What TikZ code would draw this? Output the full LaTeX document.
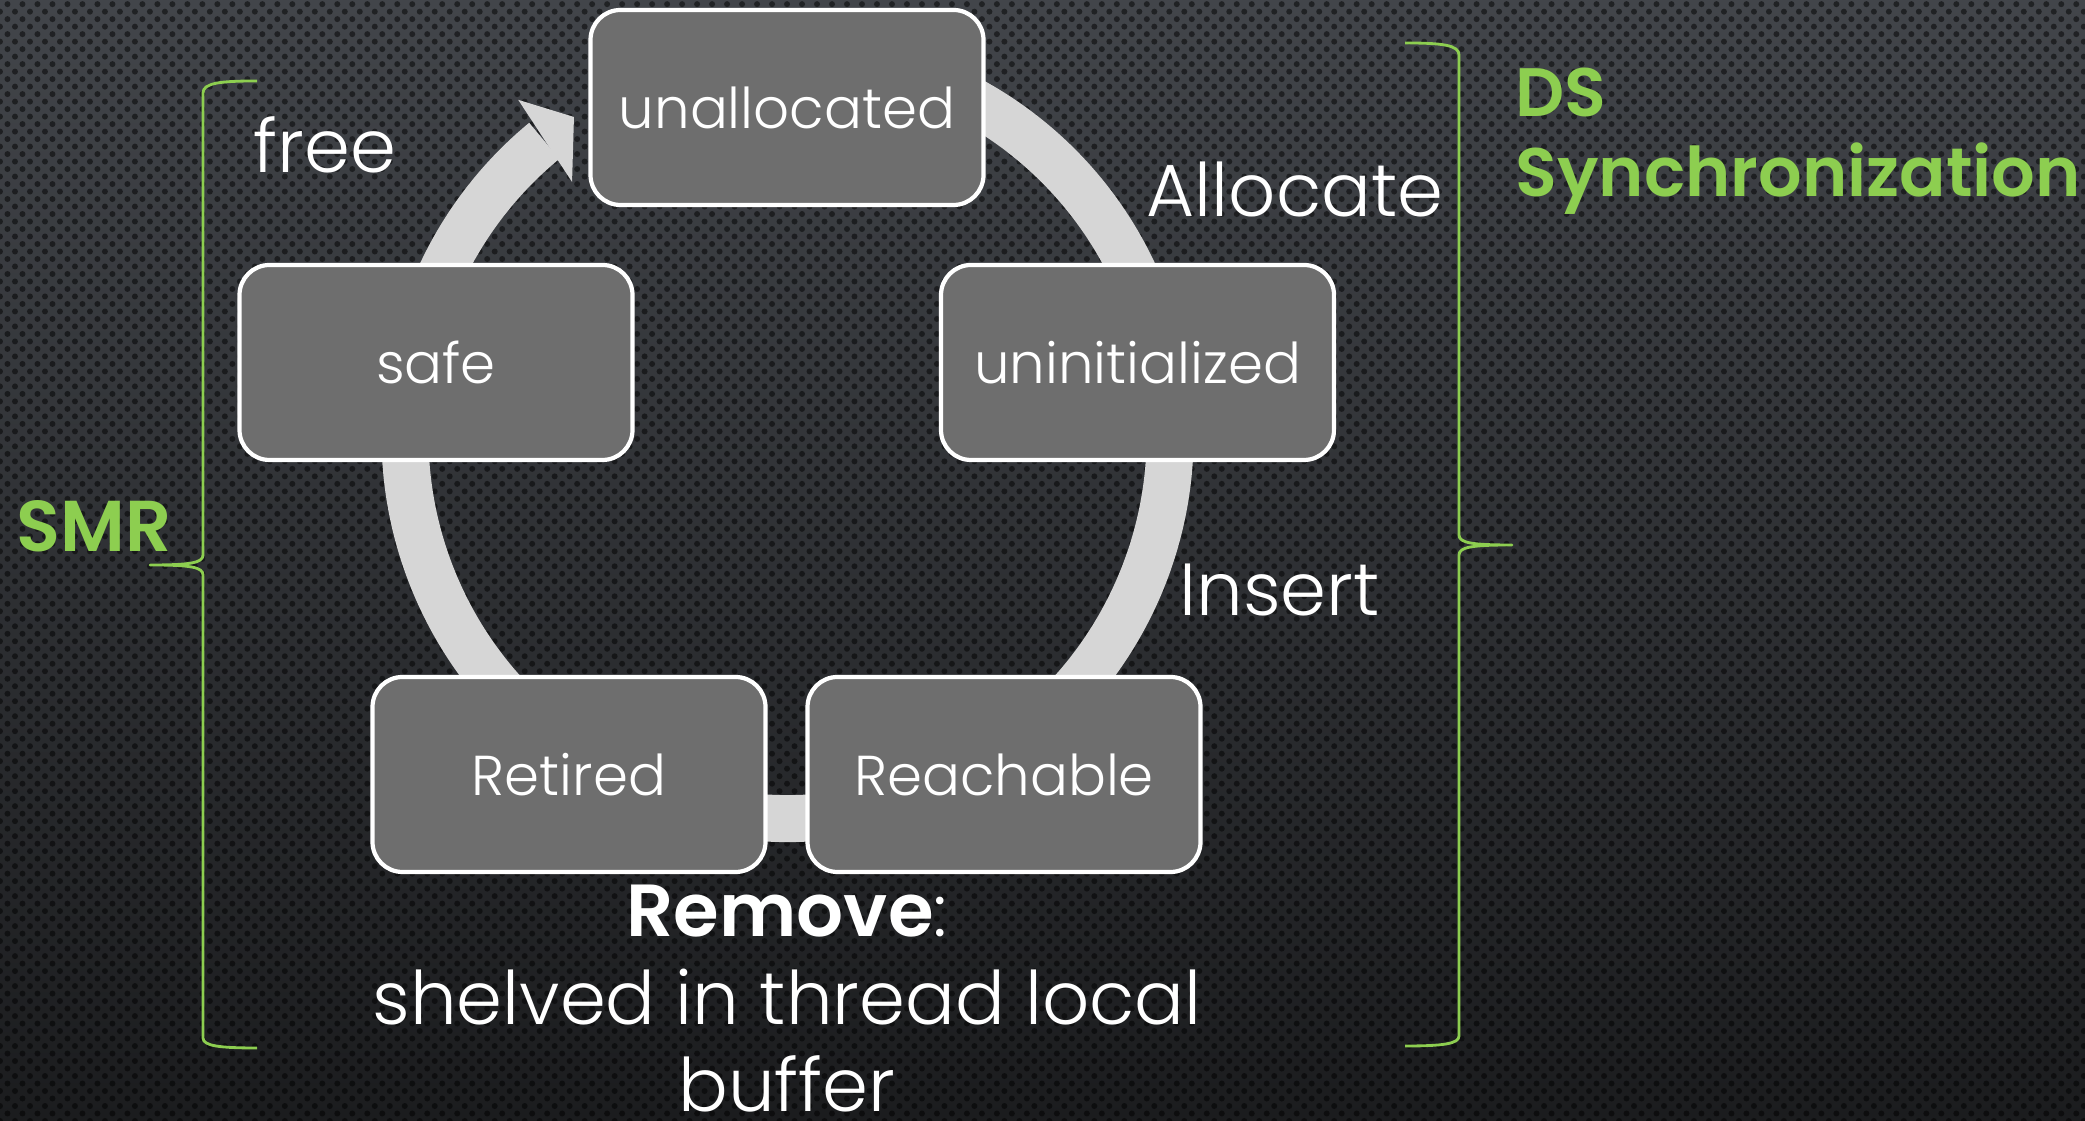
\documentclass[tikz,border=0pt]{standalone}
\usepackage{fontspec}
\IfFontExistsTF{Poppins Light}{\setmainfont{Poppins Light}[BoldFont=Poppins SemiBold]}{\setmainfont{Poppins}}
\usetikzlibrary{patterns.meta}
\definecolor{smrgreen}{RGB}{141,206,80}
\definecolor{boxgray}{RGB}{110,110,110}
\definecolor{ringgray}{RGB}{214,214,214}
\definecolor{bgtop}{RGB}{66,69,74}
\definecolor{bgbottom}{RGB}{27,28,30}

\begin{document}
\begin{tikzpicture}[line join=round,
  state/.style={draw=white,line width=1.2pt,fill=boxgray,rounded corners=0.3cm,
    minimum width=3.93cm,minimum height=1.95cm,text=white,font=\fontsize{16}{19}\selectfont},
  lbl/.style={text=white,inner sep=0pt,font=\fontsize{21}{25}\selectfont},
  grp/.style={text=smrgreen,inner sep=0pt,font=\bfseries\fontsize{19.5}{22.8}\selectfont},
  brace/.style={draw=smrgreen,line width=0.8pt}]
\useasboundingbox (0,0) rectangle (20.85,11.21);
% backdrop
\shade[top color=bgtop,bottom color=bgbottom] (0,0) rectangle (20.85,11.21);
\fill[pattern={Dots[radius=0.03cm,distance=0.106cm,angle=45]},pattern color=black,opacity=0.5]
  (0,0) rectangle (20.85,11.21);
% ring, clockwise, ends in the head next to unallocated
\coordinate (hub) at (7.875,6.85);
\draw[ringgray,line width=0.47cm]
  ([shift={(110:3.825)}]hub) arc[start angle=110,end angle=-230.5,radius=3.825];
\fill[ringgray] ([shift={(128.7:4.307)}]hub) -- ([shift={(123.8:3.839)}]hub)
  -- ([shift={(130.3:3.331)}]hub) -- cycle;
% states
\node[state] (unalloc) at (7.87,10.135) {unallocated};
\node[state] (uninit) at (11.375,7.585) {uninitialized};
\node[state] (reach) at (10.04,3.465) {Reachable};
\node[state] (retired) at (5.69,3.465) {Retired};
\node[state] (safe) at (4.36,7.585) {safe};
% transitions
\node[lbl,anchor=base west] (allocate) at (11.46,9.04) {Allocate};
\node[lbl,anchor=base west] (insert) at (11.79,5.05) {Insert};
\node[lbl,anchor=base west] (free) at (2.53,9.48) {free};
\node[lbl,align=center,anchor=base] (remove) at (7.87,0.09)
  {\textbf{Remove}:\\shelved in thread local\\buffer};
% groups
\draw[brace] (2.57,10.40) .. controls (2.2,10.40) and (2.03,10.38) .. (2.03,10.28)
  -- (2.03,5.66) .. controls (2.03,5.58) and (1.9,5.56) .. (1.50,5.56)
  .. controls (1.9,5.56) and (2.03,5.54) .. (2.03,5.46)
  -- (2.03,0.83) .. controls (2.03,0.75) and (2.2,0.73) .. (2.57,0.73);
\draw[brace] (14.05,10.78) .. controls (14.42,10.78) and (14.59,10.76) .. (14.59,10.66)
  -- (14.59,5.86) .. controls (14.59,5.78) and (14.72,5.76) .. (15.12,5.76)
  .. controls (14.72,5.76) and (14.59,5.74) .. (14.59,5.66)
  -- (14.59,0.85) .. controls (14.59,0.77) and (14.42,0.75) .. (14.05,0.75);
\node[grp,anchor=base west,font=\bfseries\fontsize{20.5}{24}\selectfont] (smr) at (0.16,5.69) {SMR};
\node[grp,anchor=base west,align=left] (ds) at (15.15,9.24) {DS\\Synchronization};
\end{tikzpicture}
\end{document}
